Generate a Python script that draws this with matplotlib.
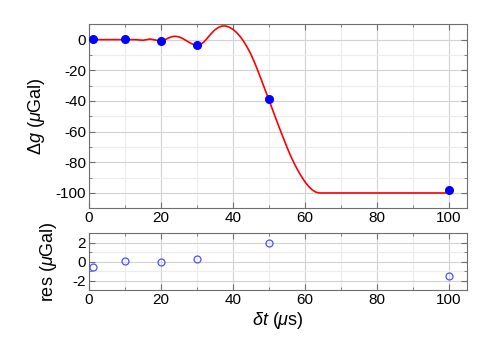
import matplotlib
matplotlib.use("Agg")
import matplotlib.pyplot as plt
from matplotlib.ticker import MultipleLocator

plt.rcParams['font.family'] = ['Liberation Sans', 'DejaVu Sans']
plt.rcParams['mathtext.fontset'] = 'custom'
plt.rcParams['mathtext.rm'] = 'Liberation Sans'
plt.rcParams['mathtext.it'] = 'Liberation Sans:italic'
plt.rcParams['axes.unicode_minus'] = False

# measured points
dt = [1, 10, 20, 30, 50, 100]
dg = [0.7, 0.2, -1.2, -3.8, -39.0, -98.3]
res = [-0.57, 0.03, 0.0, 0.25, 1.96, -1.5]

# model curve
curve_t = [0, 5, 10, 13, 15, 17, 19, 20, 21, 22, 23, 24, 25, 26, 27, 28, 29, 30,
           31, 32, 33, 34, 35, 36, 37, 38, 39, 40, 41, 42, 43, 44, 45, 46, 47, 48,
           49, 50, 51, 52, 53, 54, 55, 56, 57, 58, 59, 60, 61, 62, 63, 64, 66, 70,
           80, 90, 100]
curve_g = [0, 0, 0, 0, -0.4, 0.4, -0.5, -1.0, -0.2, 1.0, 1.9, 2.2, 1.8, 0.8, -0.6,
           -2.0, -3.2, -3.9, -3.3, -1.4, 1.3, 4.0, 6.4, 8.0, 8.9, 8.9, 8.1, 6.7, 4.7,
           2.1, -1.1, -5.0, -9.5, -14.8, -20.6, -26.8, -33.0, -39.2, -45.5, -51.8,
           -58.0, -64.0, -70.0, -75.5, -80.5, -85.0, -89.0, -92.6, -95.6, -97.9,
           -99.4, -100.0, -100.0, -100.0, -100.0, -100.0, -100.0]

fig = plt.figure(figsize=(4.91, 3.57), dpi=100)
ax1 = fig.add_axes([0.1813, 0.4165, 0.7692, 0.5154])
ax2 = fig.add_axes([0.1813, 0.1877, 0.7692, 0.1588])

spine_c = '#6e6e6e'
for ax in (ax1, ax2):
    ax.set_xlim(0, 105)
    ax.xaxis.set_major_locator(MultipleLocator(20))
    ax.xaxis.set_minor_locator(MultipleLocator(10))
    ax.grid(which='major', color='#d2d2d2', linewidth=0.8)
    ax.grid(which='minor', color='#ececec', linewidth=0.8)
    ax.set_axisbelow(True)
    for s in ax.spines.values():
        s.set_color(spine_c)
        s.set_linewidth(0.8)
    ax.tick_params(which='both', direction='in', top=True, right=True,
                   color=spine_c, labelsize=11, pad=2)
    ax.tick_params(which='major', length=4)
    ax.tick_params(which='minor', length=2)

ax1.plot(curve_t, curve_g, color='red', linewidth=1.2, zorder=2)
ax1.plot(dt, dg, 'o', color='blue', markersize=5.5, zorder=3)
ax1.set_ylim(-110, 10)
ax1.yaxis.set_major_locator(MultipleLocator(20))
ax1.yaxis.set_minor_locator(MultipleLocator(10))
ax1.set_ylabel('Δ$g$ ($\\mu$Gal)', fontsize=13, labelpad=6)

ax2.plot(dt, res, 'o', markerfacecolor='none', markeredgecolor='#5050ff',
         markersize=5, markeredgewidth=0.9, zorder=3)
ax2.set_ylim(-3, 3)
ax2.yaxis.set_major_locator(MultipleLocator(2))
ax2.yaxis.set_minor_locator(MultipleLocator(1))
ax2.set_ylabel(r'res ($\mu$Gal)', fontsize=13, labelpad=10)
ax2.set_xlabel(r'$\delta t$ ($\mu$s)', fontsize=13, labelpad=2)

fig.savefig('out.png', dpi=100)
